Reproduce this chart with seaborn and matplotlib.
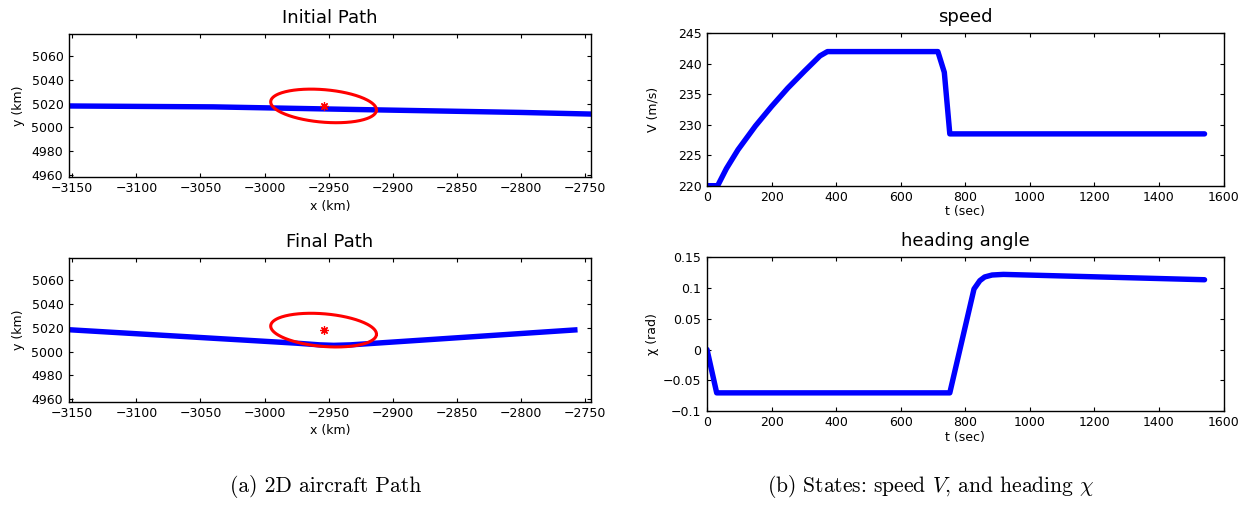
import numpy as np
import pandas as pd
import matplotlib
matplotlib.use("Agg")
import matplotlib.pyplot as plt
from matplotlib.ticker import FuncFormatter
import seaborn as sns

# ---- data -------------------------------------------------------------
# initial (straight) path, km
init_x = [-3160, -3040, -2925, -2800, -2740]
init_y = [5018.0, 5017.2, 5014.9, 5012.5, 5011.0]

# final (re-routed) path, km
final_x = [-3160, -2975, -2957, -2946, -2933, -2756]
final_y = [5018.8, 5007.0, 5005.6, 5005.2, 5005.6, 5018.3]

# threat region: centre, semi-axes (km) and tilt (deg)
threat_center = (-2954.0, 5018.0)
threat_axes = (41.4, 13.7)
threat_tilt = -5.3

# speed history
t_speed = [0, 33, 60, 96, 150, 200, 250, 302, 350, 373, 715, 735, 752, 1541]
v_speed = [220.0, 220.0, 222.8, 225.9, 229.8, 233.0, 236.0, 238.8, 241.3,
           242.0, 242.0, 238.6, 228.5, 228.5]

# heading history
t_head = [0, 30, 752, 827, 845, 860, 883, 918, 1541]
chi_head = [0.0, -0.0705, -0.0705, 0.0985, 0.112, 0.118, 0.1212, 0.1222, 0.1135]

path_xticks = list(range(-3150, -2749, 50))
path_yticks = list(range(4960, 5061, 20))
time_ticks = list(range(0, 1601, 200))
speed_ticks = [220, 225, 230, 235, 240, 245]
head_ticks = [-0.1, -0.05, 0.0, 0.05, 0.1, 0.15]

# ---- style ------------------------------------------------------------
sns.set_theme(style="ticks")
plt.rcParams["font.family"] = ["DejaVu Sans"]
plt.rcParams.update({
    "xtick.direction": "in", "ytick.direction": "in",
    "xtick.top": True, "ytick.right": True,
    "xtick.major.size": 3, "ytick.major.size": 3,
    "xtick.major.width": 0.8, "ytick.major.width": 0.8,
    "xtick.major.pad": 3.5, "ytick.major.pad": 4,
    "axes.edgecolor": "black", "axes.linewidth": 1.0,
    "xtick.color": "black", "ytick.color": "black",
    "xtick.labelsize": 9, "ytick.labelsize": 9,
    "axes.labelsize": 9, "axes.titlesize": 13,
    "text.color": "black", "axes.labelcolor": "black",
    "mathtext.fontset": "cm",
})

BLUE = "#0000ff"
RED = "#ff0000"
LW = 3.9

W, H = 1252, 514
fig = plt.figure(figsize=(W / 100, H / 100), dpi=100)


def box(l, r, t, b):
    return [l / W, 1 - b / H, (r - l) / W, (b - t) / H]


ax_init = fig.add_axes(box(69, 591, 34.3, 177.3))
ax_final = fig.add_axes(box(69, 591, 258.3, 401.7))
ax_speed = fig.add_axes(box(707, 1223.6, 33.3, 185.7))
ax_head = fig.add_axes(box(707, 1223.6, 257.3, 411))

minus_fmt = FuncFormatter(lambda v, p: ("%g" % v).replace("-", "\u2212"))

# threat ellipse outline
th = np.linspace(0, 2 * np.pi, 241)
ang = np.deg2rad(threat_tilt)
ea, eb = threat_axes
ell = pd.DataFrame({
    "x": threat_center[0] + ea * np.cos(th) * np.cos(ang) - eb * np.sin(th) * np.sin(ang),
    "y": threat_center[1] + ea * np.cos(th) * np.sin(ang) + eb * np.sin(th) * np.cos(ang),
})


def place_labels(ax, xgap_px, yright_px, ax_left_px):
    bb = ax.get_position()
    w_px, h_px = bb.width * W, bb.height * H
    ax.xaxis.set_label_coords(0.5, -xgap_px / h_px)
    ax.yaxis.set_label_coords((yright_px - ax_left_px) / w_px, 0.5)


def draw_path(ax, px, py, title):
    sns.lineplot(x=px, y=py, ax=ax, color=BLUE, lw=LW, sort=False,
                 estimator=None, solid_joinstyle="round", solid_capstyle="butt")
    sns.lineplot(data=ell, x="x", y="y", ax=ax, color=RED, lw=2.2, sort=False,
                 estimator=None)
    ax.plot([threat_center[0]], [threat_center[1]], linestyle="none",
            marker=(8, 2, 0), ms=6, mew=0.9, color=RED)
    ax.set_xlim(-3152.5, -2745.5)
    ax.set_ylim(4957.8, 5078.4)
    ax.set_xticks(path_xticks)
    ax.set_yticks(path_yticks)
    ax.xaxis.set_major_formatter(minus_fmt)
    ax.set_xlabel("x (km)")
    ax.set_ylabel("y (km)")
    ax.set_title(title, pad=8)
    place_labels(ax, 22.5, 25, 69)


draw_path(ax_init, init_x, init_y, "Initial Path")
draw_path(ax_final, final_x, final_y, "Final Path")

sns.lineplot(x=t_speed, y=v_speed, ax=ax_speed, color=BLUE, lw=LW,
             estimator=None, solid_joinstyle="round")
ax_speed.set_xlim(0, 1600)
ax_speed.set_ylim(220, 245)
ax_speed.set_xticks(time_ticks)
ax_speed.set_yticks(speed_ticks)
ax_speed.set_xlabel("t (sec)")
ax_speed.set_ylabel("V (m/s)")
ax_speed.set_title("speed", pad=8)
place_labels(ax_speed, 19.5, 659, 707)

sns.lineplot(x=t_head, y=chi_head, ax=ax_head, color=BLUE, lw=LW,
             estimator=None, solid_joinstyle="round")
ax_head.set_xlim(0, 1600)
ax_head.set_ylim(-0.1, 0.15)
ax_head.set_xticks(time_ticks)
ax_head.set_yticks(head_ticks)
ax_head.yaxis.set_major_formatter(minus_fmt)
ax_head.set_xlabel("t (sec)")
ax_head.set_ylabel("\u03c7 (rad)")
ax_head.set_title("heading angle", pad=8)
place_labels(ax_head, 20.5, 659, 707)

for ax in (ax_init, ax_final, ax_speed, ax_head):
    for s in ax.spines.values():
        s.set_visible(True)

fig.text(326 / W, 1 - 487 / H, "(a) 2D aircraft Path",
         family="cmr10", ha="center", va="center", fontsize=15.5)
fig.text(931 / W, 1 - 487 / H, r"(b) States: speed $V$, and heading $\chi$",
         family="cmr10", ha="center", va="center", fontsize=15.5)

fig.savefig("out.png", dpi=100)
